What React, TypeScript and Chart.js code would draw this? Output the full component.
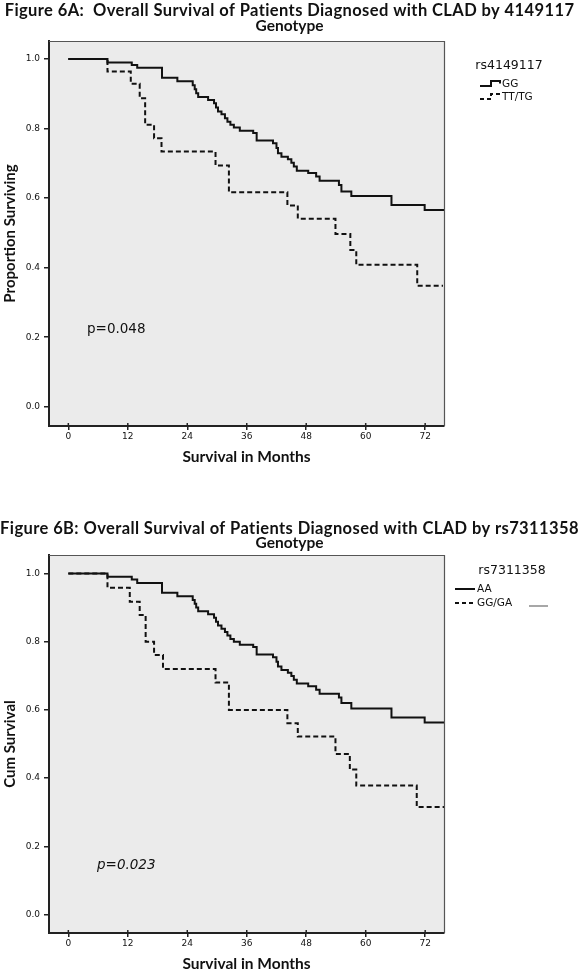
import React, { useEffect, useRef } from "react";
import { Chart, registerables } from "chart.js";

Chart.register(...registerables);

// ---------- data ----------
const xTicks = [0, 12, 24, 36, 48, 60, 72];
const yTicks = [0, 0.2, 0.4, 0.6, 0.8, 1.0];

// Figure 6A – rs4149117
const ggMonths = [0, 7.9, 12.8, 13.9, 18.9, 22.0, 25.1, 25.5, 25.8, 26.2, 28.2, 29.4, 29.8, 30.2, 30.9, 31.6, 32.1, 32.7, 33.4, 34.6, 37.3, 38.0, 41.3, 42.0, 42.3, 43.0, 44.3, 45.0, 45.5, 46.1, 48.4, 50.0, 50.7, 54.6, 55.1, 57.1, 65.2, 71.9, 75.9];
const ggSurv = [1.0, 0.99, 0.983, 0.975, 0.946, 0.936, 0.925, 0.913, 0.902, 0.891, 0.882, 0.873, 0.861, 0.849, 0.841, 0.83, 0.82, 0.811, 0.803, 0.794, 0.787, 0.766, 0.758, 0.744, 0.729, 0.719, 0.712, 0.702, 0.691, 0.679, 0.672, 0.662, 0.65, 0.638, 0.619, 0.606, 0.58, 0.566, 0.566];
const ttMonths = [0, 7.9, 12.6, 14.4, 15.5, 17.3, 18.8, 29.7, 32.4, 44.2, 46.3, 53.9, 56.9, 58.1, 70.4, 75.6];
const ttSurv = [1.0, 0.964, 0.929, 0.887, 0.811, 0.772, 0.734, 0.694, 0.617, 0.579, 0.541, 0.497, 0.451, 0.408, 0.348, 0.348];

// Figure 6B – rs7311358
const aaMonths = [0, 7.9, 12.8, 13.9, 18.9, 22.0, 25.1, 25.5, 25.8, 26.2, 28.2, 29.4, 29.8, 30.2, 30.9, 31.6, 32.1, 32.7, 33.4, 34.6, 37.3, 38.0, 41.3, 42.0, 42.3, 43.0, 44.3, 45.0, 45.5, 46.1, 48.4, 50.0, 50.7, 54.6, 55.1, 57.1, 65.2, 71.9, 75.9];
const aaSurv = [1.0, 0.99, 0.982, 0.972, 0.943, 0.933, 0.922, 0.911, 0.9, 0.889, 0.88, 0.87, 0.858, 0.847, 0.838, 0.828, 0.818, 0.808, 0.8, 0.791, 0.784, 0.762, 0.754, 0.741, 0.727, 0.717, 0.709, 0.699, 0.688, 0.677, 0.669, 0.659, 0.647, 0.636, 0.62, 0.604, 0.578, 0.563, 0.563];
const gaMonths = [0, 7.9, 12.4, 14.4, 15.6, 17.3, 19.1, 29.7, 32.4, 44.2, 46.3, 53.9, 56.8, 58.1, 70.3, 75.9];
const gaSurv = [1.0, 0.958, 0.917, 0.878, 0.8, 0.761, 0.72, 0.68, 0.6, 0.561, 0.522, 0.471, 0.425, 0.378, 0.315, 0.315];

// ---------- styling ----------
const REG = "'DejaVu Sans', sans-serif";
const BOLD = "Lato, 'DejaVu Sans', sans-serif";
const INK = "#111111";
const DASH = [5, 3];

type LegendItem = { label: string; dashed: boolean; y: number };
type Panel = {
  top: number;
  height: number;
  areaTop: number;
  areaBottom: number;
  yMin: number;
  yMax: number;
  title1: string;
  title2: string;
  title1Y: number;
  title2Y: number;
  yTitle: string;
  xTitlePad: number;
  pText: string;
  pItalic: boolean;
  pX: number;
  pY: number;
  legendTitle: string;
  legendTitleX: number;
  legendTitleY: number;
  legendStyle: "step" | "line";
  symbolX: number;
  textX: number;
  items: LegendItem[];
  extraLine?: { x1: number; x2: number; y: number };
  solid: { m: number[]; s: number[]; label: string };
  dashed: { m: number[]; s: number[]; label: string };
};

const panels: Panel[] = [
  {
    top: 0,
    height: 487,
    areaTop: 41,
    areaBottom: 426,
    yMin: -0.0555,
    yMax: 1.052,
    title1: "Figure 6A:  Overall Survival of Patients Diagnosed with CLAD by 4149117",
    title2: "Genotype",
    title1Y: 10.5,
    title2Y: 25.5,
    yTitle: "Proportion Surviving",
    xTitlePad: 21,
    pText: "p=0.048",
    pItalic: false,
    pX: 87,
    pY: 329,
    legendTitle: "rs4149117",
    legendTitleX: 509,
    legendTitleY: 66,
    legendStyle: "step",
    symbolX: 480,
    textX: 502,
    items: [
      { label: "GG", dashed: false, y: 84 },
      { label: "TT/TG", dashed: true, y: 97 },
    ],
    solid: { m: ggMonths, s: ggSurv, label: "GG" },
    dashed: { m: ttMonths, s: ttSurv, label: "TT/TG" },
  },
  {
    top: 487,
    height: 488,
    areaTop: 68,
    areaBottom: 446,
    yMin: -0.054,
    yMax: 1.054,
    title1: "Figure 6B: Overall Survival of Patients Diagnosed with CLAD by rs7311358",
    title2: "Genotype",
    title1Y: 41.5,
    title2Y: 56,
    yTitle: "Cum Survival",
    xTitlePad: 2,
    pText: "p=0.023",
    pItalic: true,
    pX: 97,
    pY: 378,
    legendTitle: "rs7311358",
    legendTitleX: 512,
    legendTitleY: 84,
    legendStyle: "line",
    symbolX: 455,
    textX: 477,
    items: [
      { label: "AA", dashed: false, y: 102 },
      { label: "GG/GA", dashed: true, y: 116 },
    ],
    extraLine: { x1: 529, x2: 548, y: 119 },
    solid: { m: aaMonths, s: aaSurv, label: "AA" },
    dashed: { m: gaMonths, s: gaSurv, label: "GG/GA" },
  },
];

const decor = {
  id: "decor",
  beforeDraw(chart: any) {
    const { ctx, chartArea: a } = chart;
    ctx.save();
    ctx.fillStyle = "#ebebeb";
    ctx.fillRect(a.left, a.top, a.right - a.left, a.bottom - a.top);
    ctx.restore();
  },
  afterDraw(chart: any, _args: any, o: any) {
    const p: Panel = o.panel;
    const { ctx, chartArea: a } = chart;
    ctx.save();
    // top & right frame
    ctx.strokeStyle = "#555";
    ctx.lineWidth = 1.2;
    ctx.beginPath();
    ctx.moveTo(a.left, a.top + 0.5);
    ctx.lineTo(a.right + 0.5, a.top + 0.5);
    ctx.lineTo(a.right + 0.5, a.bottom);
    ctx.stroke();
    // inner part of x ticks
    const xs = chart.scales.x;
    ctx.strokeStyle = "#222";
    ctx.lineWidth = 1.5;
    xTicks.forEach((v) => {
      const px = xs.getPixelForValue(v);
      ctx.beginPath();
      ctx.moveTo(px, a.bottom);
      ctx.lineTo(px, a.bottom - 3);
      ctx.stroke();
    });
    // titles
    ctx.fillStyle = INK;
    ctx.textAlign = "center";
    ctx.textBaseline = "middle";
    ctx.font = `bold 16.5px ${BOLD}`;
    (ctx as any).letterSpacing = "0.4px";
    ctx.fillText(p.title1, 289.5, p.title1Y);
    (ctx as any).letterSpacing = "0px";
    ctx.font = `bold 15.5px ${BOLD}`;
    ctx.fillText(p.title2, 289.5, p.title2Y);
    // p-value
    ctx.textAlign = "left";
    ctx.font = `${p.pItalic ? "italic " : ""}13.5px ${REG}`;
    ctx.fillText(p.pText, p.pX, p.pY);
    // legend
    ctx.font = `12.5px ${REG}`;
    ctx.textAlign = "center";
    ctx.fillText(p.legendTitle, p.legendTitleX, p.legendTitleY);
    ctx.textAlign = "left";
    ctx.font = `10.5px ${REG}`;
    p.items.forEach((it) => {
      ctx.strokeStyle = INK;
      ctx.lineWidth = 2;
      ctx.setLineDash(it.dashed ? [4, 3] : []);
      ctx.beginPath();
      if (p.legendStyle === "step") {
        const x0 = p.symbolX;
        ctx.moveTo(x0, it.y + 2);
        ctx.lineTo(x0 + 11, it.y + 2);
        ctx.lineTo(x0 + 11, it.y - 3);
        ctx.lineTo(x0 + 20, it.y - 3);
        ctx.lineTo(x0 + 20, it.y - 0.5);
      } else {
        ctx.moveTo(p.symbolX, it.y);
        ctx.lineTo(p.symbolX + 20, it.y);
      }
      ctx.stroke();
      ctx.setLineDash([]);
      ctx.fillText(it.label, p.textX, it.y + 0.5);
    });
    if (p.extraLine) {
      ctx.strokeStyle = "#8a8a8a";
      ctx.lineWidth = 1.5;
      ctx.beginPath();
      ctx.moveTo(p.extraLine.x1, p.extraLine.y);
      ctx.lineTo(p.extraLine.x2, p.extraLine.y);
      ctx.stroke();
    }
    ctx.restore();
  },
};

function toPoints(m: number[], s: number[]) {
  return m.map((v, i) => ({ x: v, y: s[i] }));
}

function PanelChart({ p }: { p: Panel }) {
  const ref = useRef<HTMLCanvasElement>(null);
  useEffect(() => {
    if (!ref.current) return;
    const chart = new Chart(ref.current, {
      type: "line",
      data: {
        datasets: [
          {
            label: p.solid.label,
            data: toPoints(p.solid.m, p.solid.s),
            borderColor: INK,
            borderWidth: 2,
            stepped: "before",
            pointRadius: 0,
            fill: false,
          },
          {
            label: p.dashed.label,
            data: toPoints(p.dashed.m, p.dashed.s),
            borderColor: INK,
            borderWidth: 2,
            borderDash: DASH,
            stepped: "before",
            pointRadius: 0,
            fill: false,
          },
        ],
      },
      options: {
        animation: false,
        responsive: false,
        maintainAspectRatio: false,
        layout: { padding: { left: 0, right: 135, top: p.areaTop, bottom: 0 } },
        plugins: {
          legend: { display: false },
          tooltip: { enabled: false },
          title: { display: false },
          decor: { panel: p },
        } as any,
        scales: {
          x: {
            type: "linear",
            min: -3.9,
            max: 75.8,
            afterBuildTicks: (s: any) => {
              s.ticks = xTicks.map((v) => ({ value: v }));
            },
            afterFit: (s: any) => {
              s.height = p.height - p.areaBottom;
            },
            ticks: {
              color: INK,
              font: { family: REG, size: 9 },
              padding: 1,
              maxRotation: 0,
              autoSkip: false,
              callback: (v: any) => String(v),
            },
            grid: { drawOnChartArea: false, drawTicks: true, tickLength: 4, color: "#222", lineWidth: 1.5 },
            border: { display: true, color: "#222", width: 2 },
            title: {
              display: true,
              text: "Survival in Months",
              color: INK,
              font: { family: BOLD, size: 15.5, weight: "bold" },
              padding: { top: 0, bottom: p.xTitlePad },
            },
          },
          y: {
            type: "linear",
            min: p.yMin,
            max: p.yMax,
            afterBuildTicks: (s: any) => {
              s.ticks = yTicks.map((v) => ({ value: v }));
            },
            afterFit: (s: any) => {
              s.width = 49;
            },
            ticks: {
              color: INK,
              font: { family: REG, size: 9 },
              padding: 4,
              autoSkip: false,
              callback: (v: any) => Number(v).toFixed(1),
            },
            grid: { drawOnChartArea: false, drawTicks: true, tickLength: 5, color: "#222", lineWidth: 1.5 },
            border: { display: true, color: "#222", width: 2 },
            title: {
              display: true,
              text: p.yTitle,
              color: INK,
              font: { family: BOLD, size: 15, weight: "bold" },
              padding: { top: 1, bottom: 0 },
            },
          },
        },
      },
      plugins: [decor as any],
    });
    return () => chart.destroy();
  }, [p]);
  return (
    <canvas
      ref={ref}
      width={579}
      height={p.height}
      style={{ position: "absolute", left: 0, top: p.top, width: 579, height: p.height }}
    />
  );
}

export default function App() {
  return (
    <div style={{ position: "absolute", left: 0, top: 0, width: 579, height: 975, background: "#fff" }}>
      {panels.map((p, i) => (
        <PanelChart key={i} p={p} />
      ))}
    </div>
  );
}
